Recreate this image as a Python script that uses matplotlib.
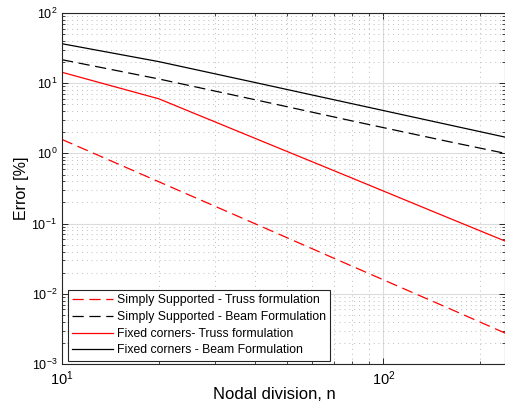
import matplotlib
matplotlib.use("Agg")
import matplotlib.pyplot as plt
from matplotlib.ticker import LogLocator, NullFormatter, LogFormatterSciNotation

plt.rcParams['font.family'] = ['Liberation Sans', 'DejaVu Sans']
plt.rcParams['mathtext.fontset'] = 'custom'
plt.rcParams['mathtext.rm'] = 'Liberation Sans'
plt.rcParams['mathtext.it'] = 'Liberation Sans'
plt.rcParams['mathtext.default'] = 'regular'

# ---- data ----
n = [10, 20, 40, 80, 160, 240]
ss_truss = [1.58, 0.395, 0.099, 0.0247, 0.0062, 0.00274]
ss_beam = [21.6, 11.5, 5.8, 2.9, 1.47, 1.0]
fc_truss = [14.3, 6.0, 1.63, 0.444, 0.12, 0.0561]
fc_beam = [36.5, 20.3, 10.2, 5.1, 2.55, 1.70]
labels = ["Simply Supported - Truss formulation",
          "Simply Supported - Beam Formulation",
          "Fixed corners- Truss formulation",
          "Fixed corners - Beam Formulation"]

W, H = 506, 408
fig = plt.figure(figsize=(W / 100, H / 100), dpi=100)
ax = fig.add_axes([62 / W, 44 / H, 443.5 / W, 351 / H])

lw = 0.9
ax.plot(n, ss_truss, color='red', lw=lw, dashes=(9, 4.5), label=labels[0])
ax.plot(n, ss_beam, color='black', lw=lw, dashes=(9, 4.5), label=labels[1])
ax.plot(n, fc_truss, color='red', lw=lw, label=labels[2])
ax.plot(n, fc_beam, color='black', lw=lw, label=labels[3])

ax.set_xscale('log')
ax.set_yscale('log')
ax.set_xlim(10, 240)
ax.set_ylim(1e-3, 1e2)

ax.xaxis.set_major_locator(LogLocator(base=10, numticks=10))
ax.yaxis.set_major_locator(LogLocator(base=10, numticks=10))
ax.xaxis.set_minor_locator(LogLocator(base=10, subs=range(2, 10), numticks=20))
ax.yaxis.set_minor_locator(LogLocator(base=10, subs=range(2, 10), numticks=20))
ax.xaxis.set_minor_formatter(NullFormatter())
ax.yaxis.set_minor_formatter(NullFormatter())
ax.xaxis.set_major_formatter(LogFormatterSciNotation())
ax.yaxis.set_major_formatter(LogFormatterSciNotation())

ax.grid(which='major', color='#dcdcdc', ls='-', lw=0.8)
ax.grid(which='minor', color='#bdbdbd', ls=(0, (1, 4)), lw=0.7)
ax.set_axisbelow(True)

ax.tick_params(which='both', direction='in', top=True, right=True, color='#262626')
ax.tick_params(which='major', length=4.5, width=0.7)
ax.tick_params(which='minor', length=2.5, width=0.6)
ax.tick_params(axis='x', which='major', labelsize=10.5, pad=4)
ax.tick_params(axis='y', which='major', labelsize=9, pad=3.5)
for s in ax.spines.values():
    s.set_color('#262626')
    s.set_linewidth(0.8)

ax.set_xlabel('Nodal division, n', fontsize=12)
ax.xaxis.set_label_coords(0.478, -23 / 351)
ax.set_ylabel('Error [%]', fontsize=11.5, labelpad=2)

leg = ax.legend(loc='lower left', bbox_to_anchor=(6 / 443.5, 3.3 / 351),
                borderaxespad=0, fontsize=8.8, frameon=True, fancybox=False,
                edgecolor='#262626', framealpha=1, handlelength=3.3,
                handletextpad=0.35, labelspacing=0.38, borderpad=0.35)
leg.get_frame().set_linewidth(0.8)

fig.savefig('out.png', dpi=100)
